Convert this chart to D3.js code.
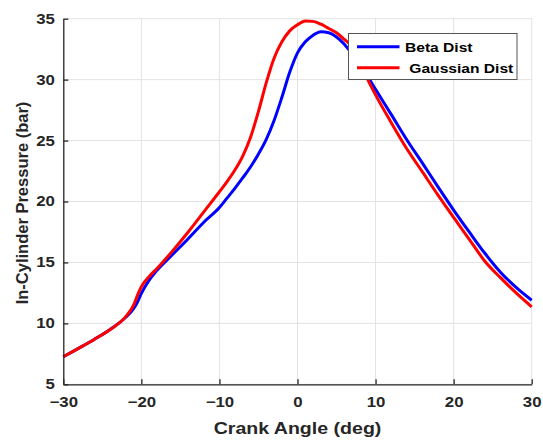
<!DOCTYPE html>
<html><head><meta charset="utf-8">
<script src="https://cdn.jsdelivr.net/npm/d3@7"></script>
<style>body{margin:0;background:#fff}svg{display:block}text{font-family:Arial,"Liberation Sans",sans-serif}</style>
</head><body><svg id="c" width="543" height="440"></svg>
<script>
const angles = [-30,-28,-26,-24,-22,-21,-20.5,-20,-19,-18,-16,-14,-12,-10,-9,-8,-7,-6,-5,-4,-3,-2,-1,0,1,2,3,4,5,6,7,8,9,10,12,14,16,18,20,22,24,26,28,30];
const betaDist = [7.26,7.97,8.7,9.5,10.5,11.2,11.75,12.46,13.55,14.35,15.65,16.95,18.3,19.5,20.3,21.1,21.95,22.85,23.9,25.1,26.65,28.55,30.6,32.2,33.1,33.65,33.93,33.85,33.5,32.9,32.1,31.2,30.25,29.2,27.15,25.07,23.15,21.2,19.3,17.5,15.75,14.2,12.95,11.9];
const gaussDist = [7.26,7.97,8.7,9.5,10.55,11.5,12.3,13.0,13.85,14.5,15.95,17.5,19.15,20.8,21.65,22.6,23.75,25.3,27.4,29.75,31.75,33.1,34.0,34.5,34.82,34.78,34.55,34.2,33.85,33.3,32.7,31.4,30.0,28.75,26.48,24.33,22.43,20.52,18.69,16.9,15.1,13.75,12.5,11.36];
const xTicks = [-30,-20,-10,0,10,20,30];
const yTicks = [5,10,15,20,25,30,35];
const seriesNames = ["Beta Dist"," Gaussian Dist"];
const seriesColors = ["#0000ff","#ff0000"];

const SX = 1.2; // horizontal text stretch seen in the reference
const svg = d3.select("#c");
const L=63.3,R=531.7,T=18.7,B=384.3;
const x = d3.scaleLinear().domain([-30,30]).range([L,R]);
const y = d3.scaleLinear().domain([5,35]).range([B,T]);

// grid
const g = svg.append("g");
g.selectAll(".gx").data(xTicks).enter().append("line")
 .attr("x1",d=>x(d)).attr("x2",d=>x(d)).attr("y1",T).attr("y2",B)
 .attr("stroke","#e3e3e3").attr("stroke-width",1);
g.selectAll(".gy").data(yTicks).enter().append("line")
 .attr("x1",L).attr("x2",R).attr("y1",d=>y(d)).attr("y2",d=>y(d))
 .attr("stroke","#e3e3e3").attr("stroke-width",1);

// lines
const line = d3.line().x((d,i)=>x(angles[i])).y(d=>y(d)).curve(d3.curveMonotoneX);
[betaDist,gaussDist].forEach((s,k)=>{
  svg.append("path").attr("d",line(s)).attr("fill","none")
   .attr("stroke",seriesColors[k]).attr("stroke-width",3).attr("stroke-linejoin","round");
});

// axes
const xa = svg.append("g").attr("transform",`translate(0,${B})`)
 .call(d3.axisBottom(x).tickValues(xTicks).tickSize(-5).tickPadding(13).tickSizeOuter(0));
const ya = svg.append("g").attr("transform",`translate(${L},0)`)
 .call(d3.axisLeft(y).tickValues(yTicks).tickSize(-5).tickPadding(7).tickSizeOuter(0));
[xa,ya].forEach(a=>{
  a.select(".domain").attr("stroke","#262626").attr("stroke-width",1.3);
  a.selectAll(".tick line").attr("stroke","#262626").attr("stroke-width",1.3);
  a.selectAll(".tick text").attr("fill","#262626").attr("font-size","14px").attr("font-weight","bold")
   .attr("font-family","Arial, 'Liberation Sans', sans-serif")
   .attr("transform",`scale(${SX},1)`);
});

// titles
svg.append("g").attr("transform",`translate(${(L+R)/2},433.5) scale(${SX},1)`)
 .append("text").attr("text-anchor","middle")
 .attr("font-size","16.3px").attr("font-weight","bold").attr("fill","#262626").text("Crank Angle (deg)");
svg.append("g").attr("transform",`translate(28,203) rotate(-90)`)
 .append("text").attr("text-anchor","middle")
 .attr("font-size","16.5px").attr("font-weight","bold").attr("fill","#262626").text("In-Cylinder Pressure (bar)");

// legend
const lg = svg.append("g");
lg.append("rect").attr("x",348.5).attr("y",33.5).attr("width",168.5).attr("height",46)
 .attr("fill","#fff").attr("stroke","#555").attr("stroke-width",1);
seriesNames.forEach((n,k)=>{
  const yy = 46.7 + k*21;
  lg.append("line").attr("x1",357).attr("x2",399.5).attr("y1",yy).attr("y2",yy)
   .attr("stroke",seriesColors[k]).attr("stroke-width",3);
  lg.append("g").attr("transform",`translate(405,${yy+5.6}) scale(${SX},1)`)
   .append("text").attr("font-size","13px").attr("font-weight","bold")
   .attr("fill","#000").attr("xml:space","preserve").style("white-space","pre").text(n);
});
</script></body></html>
